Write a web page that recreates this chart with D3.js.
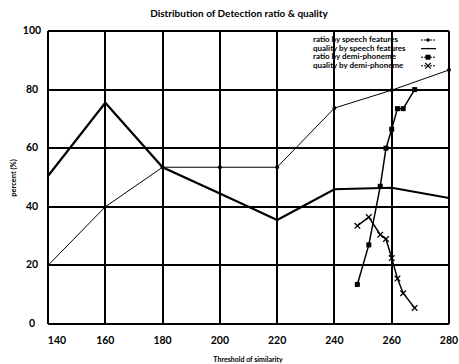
<!DOCTYPE html>
<html>
<head>
<meta charset="utf-8">
<script src="https://cdn.jsdelivr.net/npm/d3@7"></script>
<style>
  body { margin: 0; background: #fff; }
  text { font-family: Lato, "Open Sans", sans-serif; fill: #000; }
</style>
</head>
<body>
<div id="chart"></div>
<script>
// threshold values and series
const thresholds = [140, 160, 180, 200, 220, 240, 260, 280];
const ratioSpeech = [20, 40, 53.5, 53.5, 53.5, 73.7, 79.8, 86.7];
const qualitySpeech = [50.5, 75.5, 53.5, 44.5, 35.5, 46, 46.5, 43];

const demiThresholds = [248, 252, 256, 258, 260, 262, 264, 268];
const ratioDemi = [13.5, 27, 47, 60, 66.5, 73.5, 73.5, 80];
const qualityDemi = [33.5, 36.5, 30.5, 29, 22.5, 15.5, 10.5, 5.5];

const yTicks = [0, 20, 40, 60, 80, 100];
const legendLabels = ["ratio by speech features", "quality by speech features",
    "ratio by demi-phoneme", "quality by demi-phoneme"];

const width = 459, height = 364;
const svg = d3.select("#chart").append("svg")
    .attr("width", width)
    .attr("height", height);

const x = d3.scaleLinear().domain([140, 280]).range([48, 449]);
const y = d3.scaleLinear().domain([0, 100]).range([324, 31]);

// grid
svg.selectAll(".vgrid")
    .data(thresholds)
    .enter().append("line")
    .attr("x1", d => x(d)).attr("x2", d => x(d))
    .attr("y1", y(0)).attr("y2", y(100))
    .attr("stroke", "#000").attr("stroke-width", 2)
    .attr("shape-rendering", "crispEdges");

svg.selectAll(".hgrid")
    .data(yTicks)
    .enter().append("line")
    .attr("x1", x(140)).attr("x2", x(280))
    .attr("y1", d => y(d)).attr("y2", d => y(d))
    .attr("stroke", "#000").attr("stroke-width", 2)
    .attr("shape-rendering", "crispEdges");

// tick labels
svg.selectAll(".xlab")
    .data(thresholds)
    .enter().append("text")
    .attr("x", (d, i) => x(d) + (i === 0 ? 9 : 0))
    .attr("y", 344)
    .attr("text-anchor", "middle")
    .style("font-size", "10.5px")
    .style("font-weight", "bold")
    .text(d => d);

svg.selectAll(".ylab")
    .data(yTicks)
    .enter().append("text")
    .attr("x", 32)
    .attr("y", d => y(d) + 3)
    .attr("text-anchor", "middle")
    .style("font-size", "10.5px")
    .style("font-weight", "bold")
    .text(d => d);

// titles
svg.append("text")
    .attr("x", 239).attr("y", 17)
    .attr("text-anchor", "middle")
    .style("font-size", "10px").style("font-weight", "bold")
    .text("Distribution of Detection ratio & quality");

svg.append("text")
    .attr("x", 248).attr("y", 362)
    .attr("text-anchor", "middle")
    .style("font-size", "7px").style("font-weight", "bold")
    .text("Threshold of similarity");

svg.append("text")
    .attr("transform", "translate(16,178) rotate(-90)")
    .attr("text-anchor", "middle")
    .style("font-size", "7.5px").style("font-weight", "bold")
    .text("percent (%)");

// lines
const line = d3.line().x(d => x(d[0])).y(d => y(d[1]));
const zip = (a, b) => a.map((v, i) => [v, b[i]]);

const rs = zip(thresholds, ratioSpeech);
const qs = zip(thresholds, qualitySpeech);
const rd = zip(demiThresholds, ratioDemi);
const qd = zip(demiThresholds, qualityDemi);

svg.append("path").attr("d", line(qs))
    .attr("fill", "none").attr("stroke", "#000").attr("stroke-width", 2.2);

svg.append("path").attr("d", line(rs))
    .attr("fill", "none").attr("stroke", "#000").attr("stroke-width", 1);
svg.selectAll(".rsdot").data(rs.slice(2))
    .enter().append("circle")
    .attr("cx", d => x(d[0])).attr("cy", d => y(d[1]))
    .attr("r", 2).attr("fill", "#000");

svg.append("path").attr("d", line(rd))
    .attr("fill", "none").attr("stroke", "#000").attr("stroke-width", 1.5);
svg.selectAll(".rdmark").data(rd)
    .enter().append("rect")
    .attr("x", d => x(d[0]) - 2.5).attr("y", d => y(d[1]) - 2.5)
    .attr("width", 5).attr("height", 5).attr("fill", "#000");

svg.append("path").attr("d", line(qd))
    .attr("fill", "none").attr("stroke", "#000").attr("stroke-width", 1.5);
const cross = d3.symbol().type(d3.symbolTimes).size(22);
svg.selectAll(".qdmark").data(qd)
    .enter().append("path")
    .attr("d", cross)
    .attr("transform", d => "translate(" + x(d[0]) + "," + y(d[1]) + ")")
    .attr("fill", "none").attr("stroke", "#000").attr("stroke-width", 1.3);

// legend
const legend = svg.selectAll(".legend")
    .data(legendLabels)
    .enter().append("g")
    .attr("transform", (d, i) => "translate(0," + (42 + i * 8.6) + ")");

legend.append("text")
    .attr("x", 313).attr("y", 0)
    .style("font-size", "8px").style("font-weight", "bold")
    .text(d => d);

legend.append("line")
    .attr("x1", 421).attr("x2", 436).attr("y1", -2).attr("y2", -2)
    .attr("stroke", "#000").attr("stroke-width", (d, i) => i === 1 ? 1.3 : 1)
    .attr("stroke-dasharray", (d, i) => i === 1 ? null : "2,1");

legend.filter((d, i) => i === 0).append("circle")
    .attr("cx", 428).attr("cy", -2).attr("r", 1.8).attr("fill", "#000");
legend.filter((d, i) => i === 2).append("rect")
    .attr("x", 425.5).attr("y", -4.5).attr("width", 5).attr("height", 5).attr("fill", "#000");
legend.filter((d, i) => i === 3).append("path")
    .attr("d", cross)
    .attr("transform", "translate(428,-2)")
    .attr("fill", "none").attr("stroke", "#000").attr("stroke-width", 1.2);
</script>
</body>
</html>
